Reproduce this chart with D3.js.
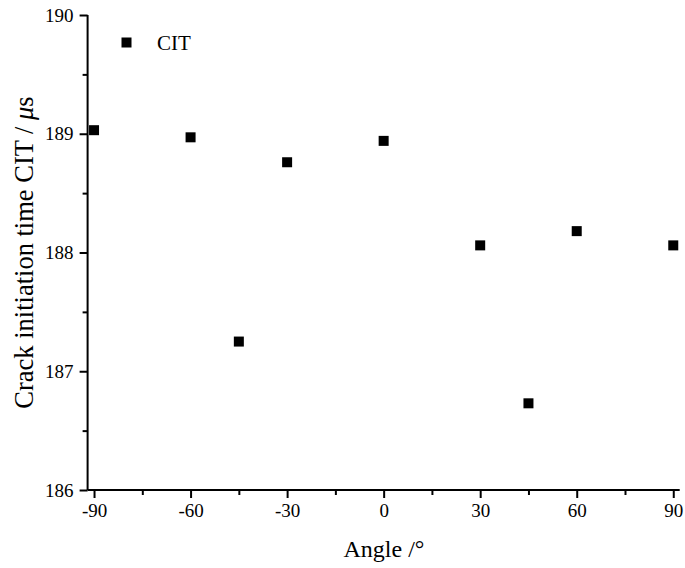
<!DOCTYPE html>
<html><head><meta charset="utf-8">
<script src="https://cdn.jsdelivr.net/npm/d3@7"></script>
<style>body{margin:0;background:#fff}svg{display:block}text{font-family:"Liberation Serif","Times New Roman",serif;fill:#000}</style>
</head><body>
<script>
const angles = [-90, -60, -45, -30, 0, 30, 45, 60, 90];
const citValues = [189.03, 188.97, 187.25, 188.76, 188.94, 188.06, 186.73, 188.18, 188.06];
const xTicks = [-90, -60, -30, 0, 30, 60, 90];
const yTicks = [186, 187, 188, 189, 190];
const seriesName = "CIT";

const W = 685, H = 568;
const svg = d3.select("body").append("svg").attr("width", W).attr("height", H);
const x = d3.scaleLinear().domain([-92, 92]).range([87.6, 679.7]);
const y = d3.scaleLinear().domain([186, 190]).range([490, 15]);

const xMinor = d3.range(-90, 91, 15).filter(v => !xTicks.includes(v));
const yMinor = d3.range(186.5, 190, 1);
const fmt = d => String(d);

const gx = svg.append("g").attr("transform", `translate(0,${y(186)})`);
gx.call(d3.axisBottom(x).tickValues(xTicks).tickSize(8).tickPadding(6).tickFormat(fmt));
gx.append("g").call(d3.axisBottom(x).tickValues(xMinor).tickSize(5).tickFormat("")).select(".domain").remove();

const gy = svg.append("g").attr("transform", `translate(${x(-92)},0)`);
gy.call(d3.axisLeft(y).tickValues(yTicks).tickSize(8).tickPadding(6).tickFormat(fmt));
gy.append("g").call(d3.axisLeft(y).tickValues(yMinor).tickSize(5).tickFormat("")).select(".domain").remove();

svg.selectAll(".domain").attr("stroke", "#000").attr("stroke-width", 2);
svg.selectAll(".tick line").attr("stroke", "#000").attr("stroke-width", 2);
svg.selectAll(".tick text").style("font-size", "19px").style("font-family", "Liberation Serif");

gx.select(".domain").attr("d", `M${x(-92)},0H${x(92)}`);
gy.select(".domain").attr("d", `M0,${y(186)}V${y(190)}`);

const s = 10;
svg.append("g").selectAll("rect").data(angles.map((a, i) => ({a, v: citValues[i]}))).join("rect")
  .attr("x", d => x(d.a) - s/2).attr("y", d => y(d.v) - s/2)
  .attr("width", s).attr("height", s).attr("fill", "#000");

svg.append("rect").attr("x", 121.5).attr("y", 37.5).attr("width", s).attr("height", s).attr("fill", "#000");
svg.append("text").attr("x", 157).attr("y", 50).style("font-size", "21px").text(seriesName);

svg.append("text").attr("x", 384).attr("y", 557).attr("text-anchor", "middle").style("font-size", "24px").text("Angle /°");
svg.append("text").attr("transform", `translate(33,252.5) rotate(-90)`).attr("text-anchor", "middle").style("font-size", "26.5px")
  .html('Crack initiation time CIT / <tspan font-style="italic">μ</tspan>s');
</script>
</body></html>
